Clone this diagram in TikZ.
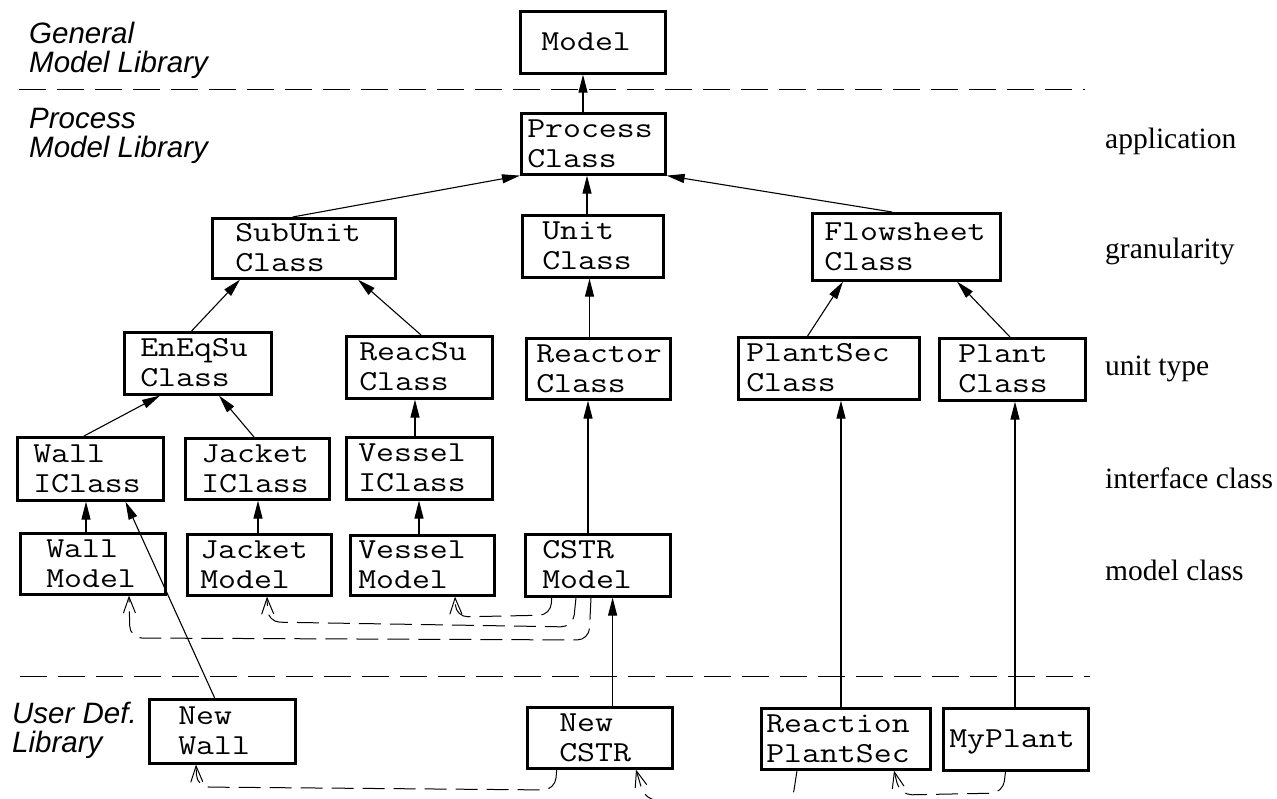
\documentclass[tikz,border=0pt]{standalone}
\usepackage{fontspec}
\usepackage{graphicx}
\setmainfont{Liberation Serif}
\newfontfamily\libfont{Liberation Sans}
\usetikzlibrary{arrows.meta}

% class box text: left indent, box width, lines (typewriter, widened)
\newcommand\clstext[3]{%
  \makebox[#2][l]{\hspace{#1}\raisebox{-2.5pt}[\height][\depth]{%
    \scalebox{1.2}[1]{\begin{tabular}{@{}l@{}}#3\end{tabular}}}}}
\newcommand\twolines[2]{\begin{tabular}[t]{@{}l@{}}#1\\#2\end{tabular}}

\begin{document}
\begin{tikzpicture}[x=1pt,y=-1pt,
  cls/.style={draw,line width=2.6pt,inner sep=0pt,anchor=north west,
    font=\ttfamily\fontsize{29}{30}\selectfont},
  inh/.style={line width=1.1pt,-{Triangle[length=18pt,width=9pt]}},
  uses/.style={line width=1pt,dash pattern=on 22pt off 9pt,rounded corners=12pt,
    -{Straight Barb[length=16pt,width=12pt,line width=1pt]}},
  divider/.style={line width=1pt,dash pattern=on 27pt off 11pt},
  lib/.style={font=\libfont\itshape\fontsize{29.5}{27}\selectfont,inner sep=0pt,anchor=base west},
  lvl/.style={font=\fontsize{29.5}{33}\selectfont,inner sep=0pt,anchor=base west}]

\useasboundingbox (0,0) rectangle (1277,798);
\clip (0,0) rectangle (1277,798);

% library dividers
\draw[divider] (19,89) -- (1085,89);
\draw[divider] (20,676) -- (1090,676);

% library names
\node[lib] (glib) at (29,43) {\twolines{General}{Model Library}};
\node[lib] (plib) at (29,128) {\twolines{Process}{Model Library}};
\node[lib] (ulib) at (12,723) {\twolines{User Def.}{Library}};

% level names
\node[lvl] (appl) at (1105,148) {application};
\node[lvl] (gran) at (1105,258) {granularity};
\node[lvl] (utype) at (1105,375) {unit type};
\node[lvl] (iface) at (1105,488) {interface class};
\node[lvl] (mclass) at (1105,580) {model class};

% classes
\node[cls,minimum width=145pt,minimum height=62pt] (model) at (519,10) {\clstext{21pt}{145pt}{Model}};
\node[cls,minimum width=144pt,minimum height=61pt] (process) at (520,112) {\clstext{6pt}{144pt}{Process\\Class}};
\node[cls,minimum width=183pt,minimum height=60pt] (subunit) at (211,217) {\clstext{23pt}{183pt}{SubUnit\\Class}};
\node[cls,minimum width=141pt,minimum height=62pt] (unit) at (521,214) {\clstext{20pt}{141pt}{Unit\\Class}};
\node[cls,minimum width=188pt,minimum height=67pt] (flowsheet) at (811,212) {\clstext{12pt}{188pt}{Flowsheet\\Class}};
\node[cls,minimum width=147pt,minimum height=62pt] (eneqsu) at (123,331) {\clstext{16pt}{147pt}{EnEqSu\\Class}};
\node[cls,minimum width=146pt,minimum height=62pt] (reacsu) at (345,335) {\clstext{13pt}{146pt}{ReacSu\\Class}};
\node[cls,minimum width=144pt,minimum height=61pt] (reactor) at (525,337) {\clstext{10pt}{144pt}{Reactor\\Class}};
\node[cls,minimum width=181pt,minimum height=62pt] (plantsec) at (737,336) {\clstext{8pt}{181pt}{PlantSec\\Class}};
\node[cls,minimum width=146pt,minimum height=62pt] (plant) at (938,337) {\clstext{19pt}{146pt}{Plant\\Class}};
\node[cls,minimum width=146pt,minimum height=63pt] (wallic) at (16,436) {\clstext{16pt}{146pt}{Wall\\IClass}};
\node[cls,minimum width=144pt,minimum height=61pt] (jacketic) at (184,437) {\clstext{16pt}{144pt}{Jacket\\IClass}};
\node[cls,minimum width=146pt,minimum height=62pt] (vesselic) at (345,436) {\clstext{12pt}{146pt}{Vessel\\IClass}};
\node[cls,minimum width=145pt,minimum height=61pt] (wallm) at (19,532) {\clstext{26pt}{145pt}{Wall\\Model}};
\node[cls,minimum width=144pt,minimum height=61pt] (jacketm) at (186,533) {\clstext{13pt}{144pt}{Jacket\\Model}};
\node[cls,minimum width=144pt,minimum height=60pt] (vesselm) at (349,534) {\clstext{8pt}{144pt}{Vessel\\Model}};
\node[cls,minimum width=145pt,minimum height=62pt] (cstrm) at (524,533) {\clstext{17pt}{145pt}{CSTR\\Model}};
\node[cls,minimum width=146pt,minimum height=64pt] (newwall) at (148,698) {\clstext{29pt}{146pt}{New\\Wall}};
\node[cls,minimum width=145pt,minimum height=61pt] (newcstr) at (526,706) {\clstext{32pt}{145pt}{New\\CSTR}};
\node[cls,minimum width=169pt,minimum height=61pt] (reaction) at (760,707) {\clstext{5pt}{169pt}{Reaction\\PlantSec}};
\node[cls,minimum width=145pt,minimum height=62pt] (myplant) at (942,707) {\clstext{6pt}{145pt}{MyPlant}};

% specialisation
\draw[inh] ([xshift=63pt]process.north west) -- ([xshift=64pt]model.south west);
\draw[inh] ([xshift=81.6pt]subunit.north west) -- (process.south west);
\draw[inh] ([xshift=66pt]unit.north west) -- ([xshift=67pt]process.south west);
\draw[inh] ([xshift=81pt]flowsheet.north west) -- (process.south east);
\draw[inh] ([xshift=68.6pt]eneqsu.north west) -- ([xshift=29pt]subunit.south west);
\draw[inh] ([xshift=76pt]reacsu.north west) -- ([xshift=147pt]subunit.south west);
\draw[inh] ([xshift=64.5pt]reactor.north west) -- ([xshift=68.5pt]unit.south west);
\draw[inh] ([xshift=70.6pt]plantsec.north west) -- ([xshift=32pt]flowsheet.south west);
\draw[inh] ([xshift=72pt]plant.north west) -- ([xshift=146pt]flowsheet.south west);
\draw[inh] ([xshift=68pt]wallic.north west) -- ([xshift=37pt]eneqsu.south west);
\draw[inh] ([xshift=70pt]jacketic.north west) -- ([xshift=96pt]eneqsu.south west);
\draw[inh] ([xshift=70pt]vesselic.north west) -- ([xshift=70pt]reacsu.south west);
\draw[inh] ([xshift=67pt]wallm.north west) -- ([xshift=70pt]wallic.south west);
\draw[inh] ([xshift=72pt]jacketm.north west) -- ([xshift=74pt]jacketic.south west);
\draw[inh] ([xshift=70pt]vesselm.north west) -- ([xshift=74pt]vesselic.south west);
\draw[inh] ([xshift=64pt]cstrm.north west) -- ([xshift=63pt]reactor.south west);
\draw[inh] ([xshift=66.7pt]newwall.north west) -- ([xshift=109.5pt]wallic.south west);
\draw[inh] ([xshift=86.6pt]newcstr.north west) -- ([xshift=88.6pt]cstrm.south west);
\draw[inh] ([xshift=81pt]reaction.north west) -- ([xshift=104pt]plantsec.south west);
\draw[inh] ([xshift=73pt]myplant.north west) -- ([xshift=77pt]plant.south west);

% aggregation (uses)
\draw[uses] ([xshift=27.6pt]cstrm.south west) -- (551,615) -- (456,617) -- ([xshift=106pt]vesselm.south west);
\draw[uses] ([xshift=52pt]cstrm.south west) -- (573,627) -- (268,622) -- ([xshift=81pt]jacketm.south west);
\draw[uses] ([xshift=67pt]cstrm.south west) -- (589,640) -- (130,638) -- ([xshift=110pt]wallm.south west);
\draw[uses] ([xshift=30.7pt]newcstr.south west) -- (555,790) -- (197,787) -- ([xshift=48pt]newwall.south west);
\draw[uses] ([xshift=37pt]reaction.south west) -- (792,803) -- (645,800) -- ([xshift=110pt]newcstr.south west);
\draw[uses] ([xshift=63.5pt]myplant.south west) -- (1003,793) -- (900,795) -- ([xshift=134pt]reaction.south west);
\end{tikzpicture}
\end{document}
